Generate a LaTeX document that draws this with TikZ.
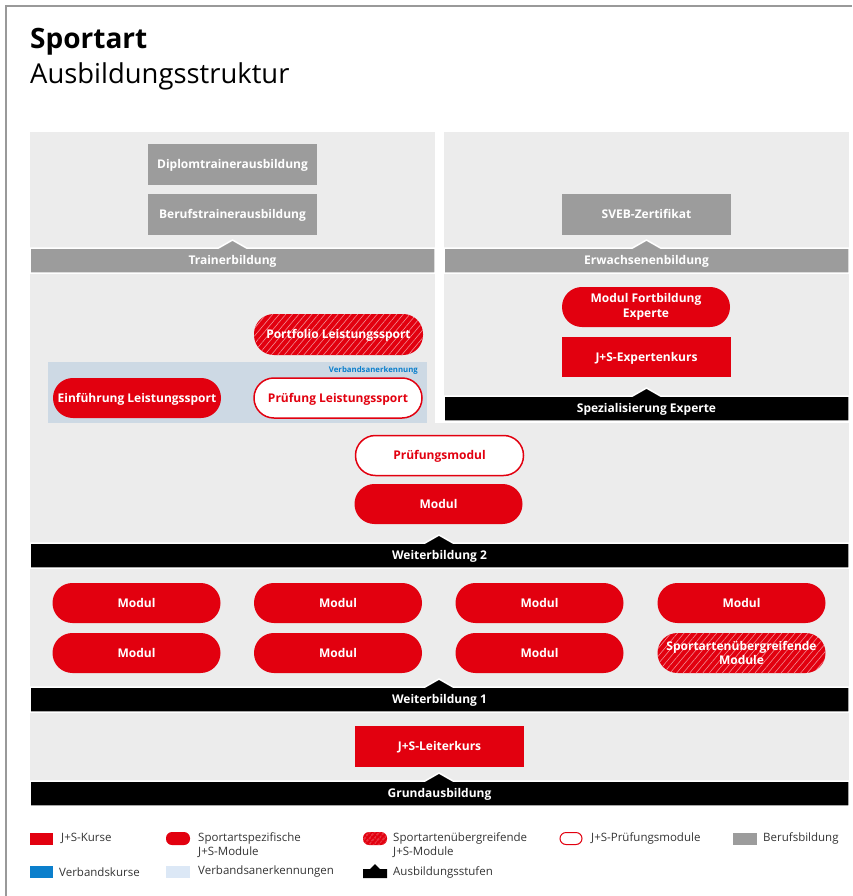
\documentclass[tikz,border=0pt]{standalone}
\usepackage{fontspec}
\setmainfont{Open Sans}
\usetikzlibrary{patterns.meta}
\definecolor{jsred}{HTML}{E2000F}
\definecolor{berufgray}{HTML}{9C9C9C}
\definecolor{panelgray}{HTML}{ECECEC}
\definecolor{vbblue}{HTML}{0B7FCC}
\definecolor{vbpale}{HTML}{DCE8F6}
\definecolor{anerkblue}{HTML}{CDD9E4}
% bar of one Ausbildungsstufe: name, x1, x2, top, notch x, colour, text
\newcommand{\stufe}[7]{%
    \filldraw[fill=#6,draw=white,line width=1.5pt]
    (#2,#4) -- (#5-14,#4) -- (#5,#4-8) -- (#5+14,#4) -- (#3,#4)
    -- (#3,#4+25) -- (#2,#4+25) -- cycle;
    \node[bartext] (#1) at ({(#2+#3)/2},#4+12.5) {#7};
}

\begin{document}
\begin{tikzpicture}[x=1pt,y=-1pt,
    every node/.style={inner sep=0pt},
    bartext/.style={text=white,text height=8.7pt,text depth=0pt,font=\bfseries\fontsize{12}{13}\selectfont},
    kurs/.style={fill=jsred,text=white,minimum width=169pt,minimum height=41pt,
        text height=8.7pt,text depth=0pt,align=center,font=\bfseries\fontsize{12}{13}\selectfont},
    zweizeilig/.style={text height={},text depth={},font=\bfseries\fontsize{12}{#1}\selectfont},
    beruf/.style={kurs,fill=berufgray},
    modul/.style={kurs,minimum width=168pt,minimum height=40pt,rounded corners=19.9pt},
    pruefung/.style={modul,fill=white,draw=jsred,line width=1.5pt,text=jsred},
    uebergreifend/.style={modul,postaction={pattern={Lines[angle=50,distance=5pt,line width=0.6pt]},
        pattern color=white!55!jsred}},
    legende/.style={anchor=west,align=left,text=black!80,font=\fontsize{11.5}{14}\selectfont}]
    \useasboundingbox (0,0) rectangle (852,896);

    % frame and title
    \draw[black!40,line width=1.5pt] (6,896) -- (6,6) -- (852,6);
    \node[anchor=base west,font=\bfseries\fontsize{28}{30}\selectfont] (titel) at (30,49) {Sportart};
    \node[anchor=base west,font=\fontsize{27.4}{30}\selectfont] (untertitel) at (30,84) {Ausbildungsstruktur};

    % panels
    \fill[panelgray] (30,132) rectangle (435,248);
    \fill[panelgray] (444,132) rectangle (849,248);
    \fill[panelgray] (30,273) rectangle (435,543);
    \fill[panelgray] (444,273) rectangle (849,396);
    \fill[panelgray] (435,423) rectangle (849,543);
    \fill[panelgray] (30,568) rectangle (849,687);
    \fill[panelgray] (30,712) rectangle (849,781);
    \fill[anerkblue] (48,362) rectangle (427,423);
    \node[anchor=east,text=vbblue,font=\bfseries\fontsize{7.8}{8}\selectfont] (anerkennung) at (418,370) {Verbandsanerkennung};

    % bars
    \stufe{trainer}{30}{435}{248}{232.5}{berufgray}{Trainerbildung}
    \stufe{erwachsen}{444}{849}{248}{646.5}{berufgray}{Erwachsenenbildung}
    \stufe{experte}{444}{849}{396}{646.5}{black}{Spezialisierung Experte}
    \stufe{wb2}{30}{849}{543}{439}{black}{Weiterbildung 2}
    \stufe{wb1}{30}{849}{687}{439}{black}{Weiterbildung 1}
    \stufe{grund}{30}{849}{781}{439}{black}{Grundausbildung}

    % Trainerbildung / Erwachsenenbildung
    \node[beruf] (diplom) at (232.5,164.5) {Diplomtrainerausbildung};
    \node[beruf] (berufstrainer) at (232.5,214.5) {Berufstrainerausbildung};
    \node[beruf] (sveb) at (646.5,214.5) {SVEB-Zertifikat};

    % Spezialisierung Experte
    \node[modul,zweizeilig=15] (fortbildung) at (646,307) {Modul Fortbildung\\Experte};
    \node[kurs,minimum height=40pt] (expertenkurs) at (646.5,357) {J+S-Expertenkurs};

    % Leistungssport
    \node[uebergreifend,minimum width=169pt,minimum height=41pt] (portfolio) at (338.5,334.5) {Portfolio Leistungssport};
    \node[modul] (einfuehrung) at (137,398) {Einführung Leistungssport};
    \node[pruefung] (pruefungls) at (338,398) {Prüfung Leistungssport};

    % Weiterbildung 2
    \node[pruefung] (pruefungsmodul) at (439.5,455.5) {Prüfungsmodul};
    \node[modul] (modulwb2) at (438.5,504) {Modul};

    % Weiterbildung 1
    \node[modul] (modula) at (136.5,603) {Modul};
    \node[modul] (modulb) at (338,603) {Modul};
    \node[modul] (modulc) at (539.5,603) {Modul};
    \node[modul] (moduld) at (741.5,603) {Modul};
    \node[modul] (module) at (136.5,653) {Modul};
    \node[modul] (modulf) at (338,653) {Modul};
    \node[modul] (modulg) at (539.5,653) {Modul};
    \node[uebergreifend,zweizeilig=14] (modulh) at (741.5,653) {Sportartenübergreifende\\Module};

    % Grundausbildung
    \node[kurs] (leiterkurs) at (439.5,746.5) {J+S-Leiterkurs};

    % legend
    \fill[jsred] (30,833) rectangle (53,845);
    \node[legende] (lkurse) at (61,838.5) {J+S-Kurse};
    \fill[jsred,rounded corners=6pt] (166,832) rectangle (190,845);
    \node[legende] (lspezifisch) at (198,845.5) {Sportartspezifische\\J+S-Module};
    \fill[jsred,rounded corners=6pt,postaction={pattern={Lines[angle=50,distance=4pt,line width=0.8pt]},
        pattern color=white!55!jsred}] (363,832) rectangle (387,845);
    \node[legende] (luebergreifend) at (393,845.5) {Sportartenübergreifende\\J+S-Module};
    \draw[jsred,fill=white,line width=1pt,rounded corners=6pt] (560,832.5) rectangle (582,844.5);
    \node[legende] (lpruefung) at (591,838.5) {J+S-Prüfungsmodule};
    \fill[berufgray] (733,833) rectangle (757,845);
    \node[legende] (lberuf) at (763,838.5) {Berufsbildung};
    \fill[vbblue] (30,866) rectangle (53,878);
    \node[legende] (lverbandskurse) at (59,872) {Verbandskurse};
    \fill[vbpale] (166,866) rectangle (190,878);
    \node[legende] (lanerkennungen) at (198,872) {Verbandsanerkennungen};
    \fill[black] (363,869) -- (370,869) -- (375,864) -- (380,869) -- (387,869) -- (387,878) -- (363,878) -- cycle;
    \node[legende] (lstufen) at (393,872) {Ausbildungsstufen};
\end{tikzpicture}
\end{document}
